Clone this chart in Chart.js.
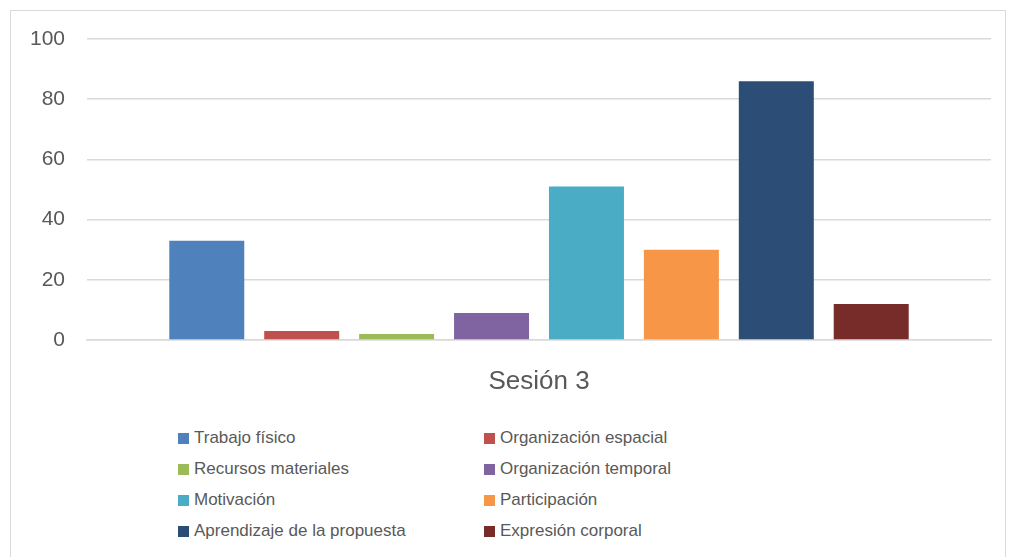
<!DOCTYPE html>
<html>
<head>
<meta charset="utf-8">
<script src="https://cdn.jsdelivr.net/npm/chart.js@4"></script>
<style>
  body { margin: 0; background: #fff; }
  .box {
    position: absolute; left: 10px; top: 10px; width: 996px; height: 560px;
    border: 1px solid #d9d9d9; border-bottom: none; box-sizing: border-box;
  }
  #chartWrap { position: absolute; left: 0; top: 0; width: 996px; height: 405px; }
  .legend {
    position: absolute; left: 167px; top: 411px;
    display: grid; grid-template-columns: 306px 300px; row-gap: 0;
    font-family: "Liberation Sans", sans-serif;
    font-size: 17px; color: #595959;
  }
  .legend div { height: 31px; line-height: 31px; white-space: nowrap; }
  .legend span {
    display: inline-block; width: 11px; height: 11px; margin-right: 5px; vertical-align: -1px;
  }
</style>
</head>
<body>
<div class="box">
  <div id="chartWrap"><canvas id="myChart"></canvas></div>
  <div class="legend" id="legend"></div>
</div>
<script>
const categories = ["Sesión 3"];
const seriesNames = [
  "Trabajo físico",
  "Organización espacial",
  "Recursos materiales",
  "Organización temporal",
  "Motivación",
  "Participación",
  "Aprendizaje de la propuesta",
  "Expresión corporal",
];
const seriesValues = [33, 3, 2, 9, 51, 30, 86, 12];
const seriesColors = ["#4f81bd", "#c0504d", "#9bbb59", "#8064a2", "#4bacc6", "#f79646", "#2c4d75", "#772c2a"];
const yTicks = [0, 20, 40, 60, 80, 100];

const ctx = document.getElementById("myChart");

new Chart(ctx, {
  type: "bar",
  data: {
    labels: categories,
    datasets: seriesNames.map((name, i) => ({
      label: name,
      data: [seriesValues[i]],
      backgroundColor: seriesColors[i],
      borderWidth: 0,
    })),
  },
  options: {
    responsive: true,
    maintainAspectRatio: false,
    animation: false,
    layout: { padding: { top: 28, right: 16, left: 0, bottom: 0 } },
    datasets: { bar: { categoryPercentage: 0.84, barPercentage: 0.79 } },
    plugins: {
      legend: { display: false },
      tooltip: { enabled: false },
    },
    scales: {
      y: {
        min: 0,
        max: 100,
        afterFit: (scale) => {
          scale.width = 76;
          // the tick padding would otherwise push the plot down
          scale.paddingTop = 12;
        },
        afterBuildTicks: (scale) => { scale.ticks = yTicks.map((v) => ({ value: v })); },
        grid: { color: "#d9d9d9", lineWidth: 1.5, drawTicks: false },
        border: { display: false },
        ticks: {
          padding: 22,
          color: "#595959",
          font: { family: "Liberation Sans", size: 21 },
        },
      },
      x: {
        afterFit: (scale) => { scale.height = 76; },
        grid: { display: false },
        border: { color: "#d9d9d9", width: 1.5 },
        ticks: {
          padding: 18,
          color: "#595959",
          font: { family: "Liberation Sans", size: 26 },
        },
      },
    },
  },
});

// legend in two columns, like the original
const legend = document.getElementById("legend");
seriesNames.forEach((name, i) => {
  const item = document.createElement("div");
  const sw = document.createElement("span");
  sw.style.background = seriesColors[i];
  item.appendChild(sw);
  item.appendChild(document.createTextNode(name));
  legend.appendChild(item);
});
</script>
</body>
</html>
